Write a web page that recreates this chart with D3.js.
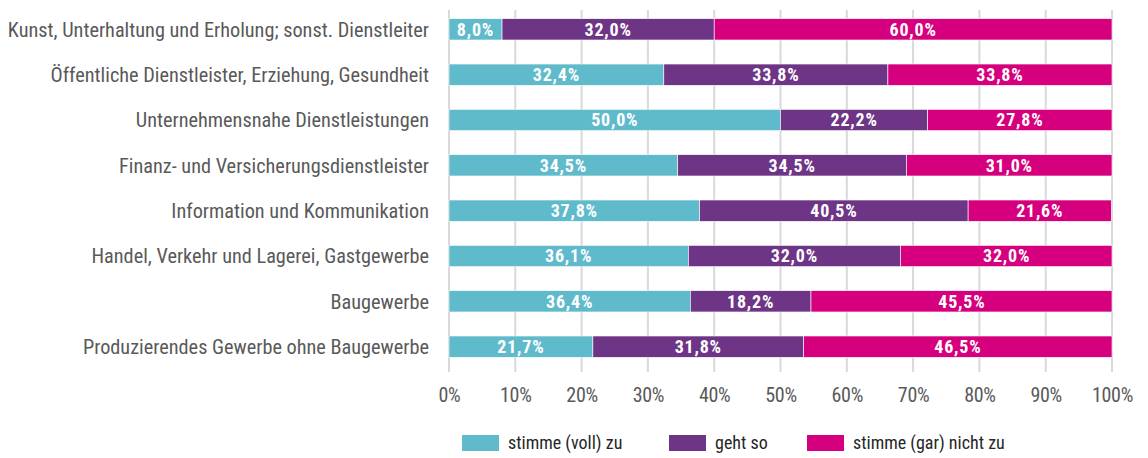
<!DOCTYPE html>
<html>
<head>
<meta charset="utf-8">
<script src="https://cdn.jsdelivr.net/npm/d3@7"></script>
<style>
  body { margin: 0; background: #fff; }
  text { font-family: "Liberation Sans Narrow", "Roboto Condensed", "DejaVu Sans Condensed", sans-serif; }
</style>
</head>
<body>
<svg id="chart" width="1148" height="458"></svg>
<script>
const categories = [
  "Kunst, Unterhaltung und Erholung; sonst. Dienstleiter",
  "Öffentliche Dienstleister, Erziehung, Gesundheit",
  "Unternehmensnahe Dienstleistungen",
  "Finanz- und Versicherungsdienstleister",
  "Information und Kommunikation",
  "Handel, Verkehr und Lagerei, Gastgewerbe",
  "Baugewerbe",
  "Produzierendes Gewerbe ohne Baugewerbe"
];
const seriesNames = ["stimme (voll) zu", "geht so", "stimme (gar) nicht zu"];
const zu = [8.0, 32.4, 50.0, 34.5, 37.8, 36.1, 36.4, 21.7];
const gehtSo = [32.0, 33.8, 22.2, 34.5, 40.5, 32.0, 18.2, 31.8];
const nichtZu = [60.0, 33.8, 27.8, 31.0, 21.6, 32.0, 45.5, 46.5];
const xTicks = [0, 10, 20, 30, 40, 50, 60, 70, 80, 90, 100];
const colors = ["#5FBBCB", "#6E3587", "#D6007E"];

const rows = categories.map((c, i) => ({ cat: c, vals: [zu[i], gehtSo[i], nichtZu[i]] }));

const svg = d3.select("#chart");
const x = d3.scaleLinear().domain([0, 100]).range([449, 1112]);
const y = d3.scaleBand().domain(categories).range([6, 370]).paddingInner(0.53).paddingOuter(0.28);

// gridlines
svg.append("g")
  .selectAll("line")
  .data(xTicks)
  .join("line")
  .attr("x1", d => x(d)).attr("x2", d => x(d))
  .attr("y1", 10).attr("y2", 372)
  .attr("stroke", "#d9d9d9")
  .attr("stroke-width", 2);

// x axis labels
const xAxis = svg.append("g")
  .attr("transform", "translate(0,372)")
  .call(d3.axisBottom(x).tickValues(xTicks).tickFormat(d => d + "%").tickSize(0).tickPadding(16));
xAxis.select(".domain").remove();
xAxis.selectAll("text").attr("font-size", 20).attr("fill", "#595959")
  .attr("letter-spacing", -0.3)
  .style("font-family", '"Liberation Sans Narrow", "Roboto Condensed", sans-serif');

// bars
const rowG = svg.append("g")
  .selectAll("g")
  .data(rows)
  .join("g")
  .attr("transform", d => `translate(0,${y(d.cat)})`);

rowG.each(function (d) {
  const g = d3.select(this);
  let acc = 0;
  const segs = d.vals.map((v, k) => {
    const s = { start: acc, v, k };
    acc += v;
    return s;
  });
  g.selectAll("rect")
    .data(segs)
    .join("rect")
    .attr("x", s => x(Math.min(s.start, 100)))
    .attr("width", s => x(Math.min(s.start + s.v, 100)) - x(Math.min(s.start, 100)))
    .attr("height", y.bandwidth())
    .attr("fill", s => colors[s.k])
    .attr("stroke", "#fff")
    .attr("stroke-width", 0.6);
  g.selectAll("text")
    .data(segs)
    .join("text")
    .attr("x", s => x(Math.min(s.start + s.v / 2, 100)))
    .attr("y", y.bandwidth() / 2)
    .attr("dy", "0.36em")
    .attr("text-anchor", "middle")
    .attr("fill", "#fff")
    .attr("font-size", 18)
    .attr("font-weight", "bold")
    .attr("letter-spacing", 0.8)
    .text(s => s.v.toFixed(1).replace(".", ",") + "%");
});

// category labels
svg.append("g")
  .selectAll("text")
  .data(categories)
  .join("text")
  .attr("x", 429)
  .attr("y", d => y(d) + y.bandwidth() / 2)
  .attr("dy", "0.36em")
  .attr("text-anchor", "end")
  .attr("fill", "#595959")
  .attr("font-size", 20.3)
  .text(d => d);

// legend
const legendX = [462, 669, 807];
const legend = svg.append("g")
  .selectAll("g")
  .data(seriesNames)
  .join("g")
  .attr("transform", (d, i) => `translate(${legendX[i]},435)`);
legend.append("rect")
  .attr("width", 37).attr("height", 16)
  .attr("fill", (d, i) => colors[i]);
legend.append("text")
  .attr("x", 46).attr("y", 8).attr("dy", "0.36em")
  .attr("font-size", 18)
  .attr("fill", "#262626")
  .text(d => d);
</script>
</body>
</html>
